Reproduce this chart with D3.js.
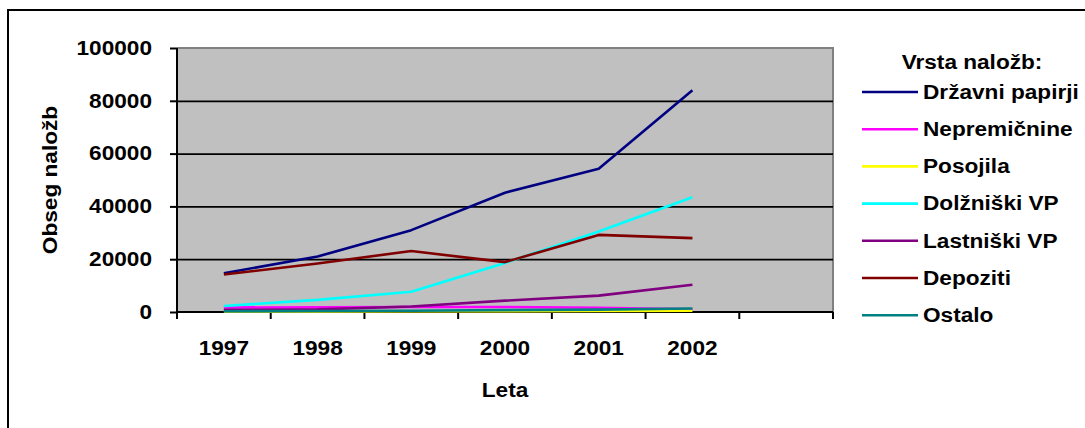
<!DOCTYPE html>
<html>
<head>
<meta charset="utf-8">
<script src="https://cdn.jsdelivr.net/npm/d3@7"></script>
<style>
  html, body { margin: 0; padding: 0; background: #fff; }
  svg { display: block; }
  text { font-family: Arial, "Liberation Sans", sans-serif; font-weight: bold; fill: #000; }
</style>
</head>
<body>
<svg id="chart" width="1085" height="428"></svg>
<script>
// Years on the category axis (the last category is left empty)
const years = ["1997", "1998", "1999", "2000", "2001", "2002"];
const categories = [...years, ""];

// Investment volume per type
const drzavniPapirji = [14700, 21000, 31000, 45200, 54300, 84000];
const nepremicnine   = [1700, 1800, 1900, 1900, 1600, 1000];
const posojila       = [200, 200, 300, 300, 400, 500];
const dolzniskiVP    = [2300, 4600, 7700, 18600, 30500, 43500];
const lastniskiVP    = [800, 1000, 2100, 4300, 6200, 10300];
const depoziti       = [14200, 18400, 23100, 18900, 29200, 28000];
const ostalo         = [300, 400, 500, 700, 900, 1300];

const seriesNames  = ["Državni papirji", "Nepremičnine", "Posojila", "Dolžniški VP", "Lastniški VP", "Depoziti", "Ostalo"];
const seriesValues = [drzavniPapirji, nepremicnine, posojila, dolzniskiVP, lastniskiVP, depoziti, ostalo];
const seriesColors = ["#000080", "#FF00FF", "#FFFF00", "#00FFFF", "#800080", "#800000", "#008080"];

const yTicks = [0, 20000, 40000, 60000, 80000, 100000];

const svg = d3.select("#chart");
const FS = 19.5, SX = 1.16;

// text helper: slightly widened bold labels
function label(parent, x, y, str, anchor, rotate) {
  return parent.append("text")
    .attr("transform", `translate(${x},${y})` + (rotate ? ` rotate(${rotate})` : "") + ` scale(${SX},1)`)
    .attr("text-anchor", anchor || "middle")
    .attr("dy", "0.35em")
    .style("font-size", FS + "px")
    .text(str);
}

// outer chart frame
svg.append("rect")
  .attr("x", 8).attr("y", 10).attr("width", 1200).attr("height", 600)
  .attr("fill", "none").attr("stroke", "#000").attr("stroke-width", 2);

const plotL = 177, plotR = 833, plotT = 48, plotB = 312;

const x = d3.scaleBand().domain(categories).range([plotL, plotR]);
const y = d3.scaleLinear().domain([0, 100000]).range([plotB, plotT]);

// plot background
svg.append("rect")
  .attr("x", plotL).attr("y", plotT).attr("width", plotR - plotL).attr("height", plotB - plotT)
  .attr("fill", "#C0C0C0");

// plot border (top and right)
svg.append("path")
  .attr("d", `M${plotL},${plotT}H${plotR}V${plotB}`)
  .attr("fill", "none").attr("stroke", "#808080").attr("stroke-width", 2);

// horizontal gridlines
const grid = svg.append("g").attr("transform", `translate(${plotL},0)`)
  .call(d3.axisLeft(y).tickValues(yTicks.filter(v => v > 0 && v < 100000)).tickSize(-(plotR - plotL)).tickFormat(""));
grid.select(".domain").remove();
grid.selectAll("line").attr("stroke", "#000").attr("stroke-width", 1.8);

// value axis
const yAxis = svg.append("g").attr("transform", `translate(${plotL},0)`)
  .call(d3.axisLeft(y).tickValues(yTicks).tickSize(7).tickFormat(d3.format("d")));
yAxis.select(".domain").attr("stroke", "#000").attr("stroke-width", 2).attr("d", `M0,${plotT}V${plotB}`);
yAxis.selectAll("line").attr("stroke", "#000").attr("stroke-width", 2);
yAxis.selectAll("text").remove();
yTicks.forEach(v => label(svg, 152, y(v), d3.format("d")(v), "end"));

// category axis
const xAxis = svg.append("g").attr("transform", `translate(0,${plotB})`)
  .call(d3.axisBottom(x).tickSize(0).tickFormat(""));
xAxis.select(".domain").attr("stroke", "#000").attr("stroke-width", 2).attr("d", `M${plotL},0H${plotR}`);
// boundary ticks between categories
const bounds = categories.map(c => x(c)).concat([x.range()[1]]);
svg.append("g").selectAll("line").data(bounds).join("line")
  .attr("x1", d => d).attr("x2", d => d)
  .attr("y1", plotB).attr("y2", plotB + 7)
  .attr("stroke", "#000").attr("stroke-width", 2);
years.forEach(yr => label(svg, x(yr) + x.bandwidth() / 2, 348, yr, "middle"));

// series lines
const line = d3.line()
  .x((d, i) => x(years[i]) + x.bandwidth() / 2)
  .y(d => y(d));
seriesValues.forEach((vals, k) => {
  svg.append("path")
    .datum(vals)
    .attr("d", line)
    .attr("fill", "none")
    .attr("stroke", seriesColors[k])
    .attr("stroke-width", 2.6)
    .attr("stroke-linejoin", "round");
});

// axis titles
label(svg, 50, 180, "Obseg naložb", "middle", -90);
label(svg, (plotL + plotR) / 2, 390, "Leta", "middle");

// legend
const legend = svg.append("g");
label(legend, 972, 62, "Vrsta naložb:", "middle");
seriesNames.forEach((name, k) => {
  const ly = 92 + k * 37.2;
  legend.append("line")
    .attr("x1", 862).attr("x2", 918).attr("y1", ly).attr("y2", ly)
    .attr("stroke", seriesColors[k]).attr("stroke-width", 2.6);
  label(legend, 923, ly, name, "start");
});
</script>
</body>
</html>
